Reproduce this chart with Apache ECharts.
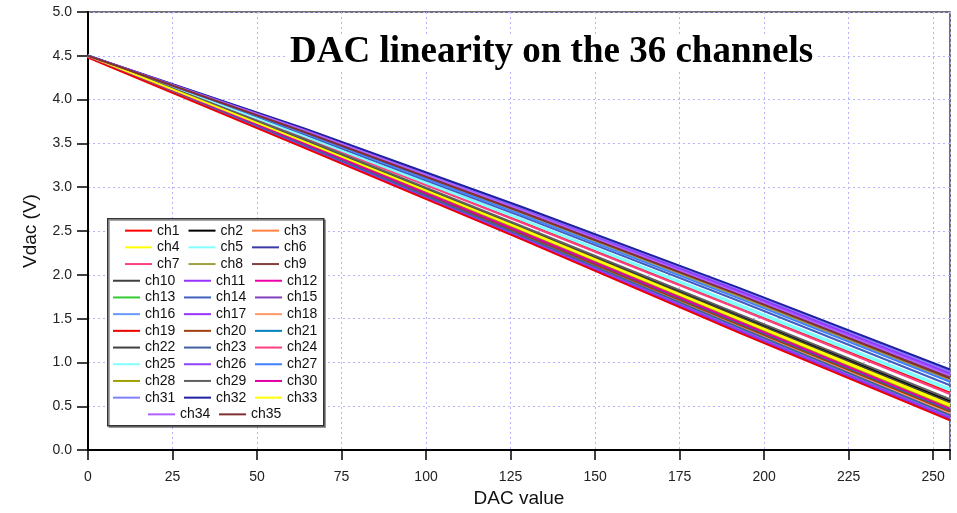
<!DOCTYPE html>
<html>
<head>
<meta charset="utf-8">
<script src="https://cdn.jsdelivr.net/npm/echarts@6.0.0/dist/echarts.min.js"></script>
<style>
  html, body { margin: 0; padding: 0; background: #fff; }
  #chart { width: 957px; height: 513px; }
</style>
</head>
<body>
<div id="chart"></div>
<script>
const dacKnots = [0, 64, 128, 192, 255];

// Vdac (V) per channel at those codes
const ch1  = [4.50, 3.57, 2.61, 1.64, 0.66];
const ch2  = [4.50, 3.54, 2.55, 1.55, 0.56];
const ch3  = [4.49, 3.48, 2.45, 1.41, 0.40];
const ch4  = [4.50, 3.52, 2.51, 1.49, 0.50];
const ch5  = [4.51, 3.59, 2.64, 1.67, 0.70];
const ch6  = [4.50, 3.46, 2.42, 1.37, 0.36];
const ch7  = [4.49, 3.47, 2.44, 1.39, 0.38];
const ch8  = [4.50, 3.63, 2.71, 1.76, 0.80];
const ch9  = [4.50, 3.64, 2.73, 1.79, 0.84];
const ch10 = [4.50, 3.50, 2.48, 1.45, 0.45];
const ch11 = [4.50, 3.66, 2.76, 1.83, 0.88];
const ch12 = [4.49, 3.48, 2.45, 1.42, 0.41];
const ch13 = [4.50, 3.49, 2.47, 1.43, 0.43];
const ch14 = [4.50, 3.60, 2.67, 1.71, 0.74];
const ch15 = [4.50, 3.46, 2.42, 1.36, 0.35];
const ch16 = [4.50, 3.47, 2.44, 1.40, 0.39];
const ch17 = [4.50, 3.47, 2.43, 1.38, 0.37];
const ch18 = [4.49, 3.49, 2.46, 1.42, 0.42];
const ch19 = [4.48, 3.45, 2.41, 1.35, 0.34];
const ch20 = [4.50, 3.49, 2.47, 1.44, 0.44];
const ch21 = [4.50, 3.50, 2.49, 1.46, 0.46];
const ch22 = [4.50, 3.53, 2.54, 1.53, 0.54];
const ch23 = [4.50, 3.48, 2.45, 1.41, 0.40];
const ch24 = [4.49, 3.57, 2.60, 1.62, 0.64];
const ch25 = [4.51, 3.58, 2.63, 1.65, 0.68];
const ch26 = [4.50, 3.65, 2.75, 1.81, 0.86];
const ch27 = [4.50, 3.62, 2.69, 1.74, 0.78];
const ch28 = [4.50, 3.51, 2.50, 1.48, 0.48];
const ch29 = [4.50, 3.55, 2.56, 1.56, 0.58];
const ch30 = [4.50, 3.50, 2.49, 1.47, 0.47];
const ch31 = [4.50, 3.66, 2.77, 1.85, 0.90];
const ch32 = [4.50, 3.67, 2.78, 1.86, 0.92];
const ch33 = [4.50, 3.52, 2.53, 1.51, 0.52];
const ch34 = [4.50, 3.65, 2.74, 1.80, 0.85];
const ch35 = [4.50, 3.63, 2.72, 1.78, 0.82];

const channelData = [ch1, ch2, ch3, ch4, ch5, ch6, ch7, ch8, ch9, ch10,
  ch11, ch12, ch13, ch14, ch15, ch16, ch17, ch18, ch19, ch20,
  ch21, ch22, ch23, ch24, ch25, ch26, ch27, ch28, ch29, ch30,
  ch31, ch32, ch33, ch34, ch35];
const channelNames = channelData.map((d, i) => 'ch' + (i + 1));

const xTicks = [0, 25, 50, 75, 100, 125, 150, 175, 200, 225, 250];
const yTicks = [0.0, 0.5, 1.0, 1.5, 2.0, 2.5, 3.0, 3.5, 4.0, 4.5, 5.0];

const channelColors = [
  '#ff0000', '#000000', '#ff8040', '#ffff00', '#80ffff', '#3a3aa8', '#ff4080', '#a0a040', '#804040', '#404040',
  '#9933ff', '#ee00aa', '#33cc33', '#4060c0', '#8040c0', '#6699ff', '#9933ff', '#ff9966', '#ee0000', '#a04010',
  '#0080c0', '#404040', '#4060a0', '#ff4080', '#80ffff', '#9040ff', '#4080ff', '#a0a000', '#606060', '#e000a0',
  '#8080ff', '#2020a0', '#ffff00', '#b060ff', '#803030'
];

var chart = echarts.init(document.getElementById('chart'));

let series = channelData.map((vals, i) => {
  return {
    name: channelNames[i],
    type: 'line',
    symbol: 'none',
    showSymbol: false,
    lineStyle: { width: 2, color: channelColors[i] },
    itemStyle: { color: channelColors[i] },
    data: vals.map((v, k) => [dacKnots[k], v])
  };
});

const legendBase = {
  orient: 'horizontal',
  padding: 0,
  itemGap: 0,
  itemWidth: 27,
  itemHeight: 2,
  icon: 'rect',
  selectedMode: false,
  textStyle: { fontFamily: 'Liberation Sans, Arial', fontSize: 14, color: '#111', lineHeight: 16.7, width: 39 }
};

chart.setOption({
  animation: false,
  backgroundColor: '#fff',
  title: {
    text: 'DAC linearity on the 36 channels',
    left: 286,
    top: 34,
    padding: [0, 4],
    backgroundColor: '#fff',
    textStyle: { fontFamily: 'Liberation Serif, Times New Roman', fontWeight: 'bold', fontSize: 37, color: '#000' }
  },
  grid: {
    left: 88, right: 7, top: 12, bottom: 56,
    show: true, borderColor: '#444', borderWidth: 1.5, backgroundColor: 'transparent'
  },
  legend: [
    Object.assign({}, legendBase, {
      data: channelNames.slice(0, 9), left: 125, top: 222.3, width: 192,
      textStyle: Object.assign({}, legendBase.textStyle, { width: 31.5 })
    }),
    Object.assign({}, legendBase, {
      data: channelNames.slice(9, 33), left: 113, top: 272.4, width: 216
    }),
    Object.assign({}, legendBase, {
      data: channelNames.slice(33), left: 148, top: 406, width: 150
    })
  ],
  graphic: [{
    type: 'rect',
    left: 107, top: 218,
    shape: { width: 216, height: 207 },
    style: { fill: '#fff', stroke: '#333', lineWidth: 1.5, shadowColor: 'rgba(0,0,0,0.35)', shadowOffsetX: 1.5, shadowOffsetY: 1.5 },
    z: 4
  }],
  xAxis: {
    type: 'value',
    min: 0, max: 255, interval: 25,
    name: 'DAC value',
    nameLocation: 'middle',
    nameGap: 32,
    nameTextStyle: { fontFamily: 'Liberation Sans, Arial', fontSize: 19, color: '#111' },
    axisLine: { onZero: false, lineStyle: { color: '#000', width: 2 } },
    axisTick: { length: 10, lineStyle: { color: '#000', width: 1.5 } },
    axisLabel: {
      margin: 20, fontFamily: 'Liberation Sans, Arial', fontSize: 14, color: '#222',
      formatter: v => xTicks.indexOf(v) >= 0 ? String(v) : ''
    },
    splitLine: { show: true, lineStyle: { color: '#b4b4ff', type: [2, 3], width: 1 } }
  },
  yAxis: {
    type: 'value',
    min: 0, max: 5, interval: 0.5,
    name: 'Vdac (V)',
    nameLocation: 'middle',
    nameGap: 48,
    nameTextStyle: { fontFamily: 'Liberation Sans, Arial', fontSize: 19, color: '#111' },
    axisLine: { show: true, onZero: false, lineStyle: { color: '#000', width: 2 } },
    axisTick: { show: true, length: 11, lineStyle: { color: '#000', width: 1.5 } },
    axisLabel: {
      margin: 16, fontFamily: 'Liberation Sans, Arial', fontSize: 14, color: '#222',
      formatter: v => yTicks.indexOf(v) >= 0 ? v.toFixed(1) : ''
    },
    splitLine: { show: true, lineStyle: { color: '#b4b4ff', type: [2, 3], width: 1 } }
  },
  series
});
</script>
</body>
</html>
